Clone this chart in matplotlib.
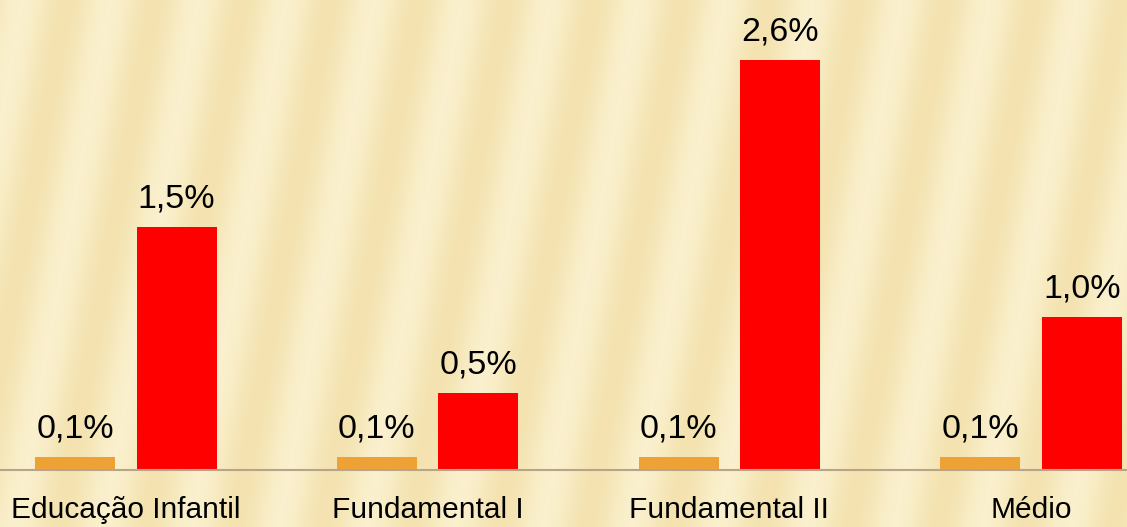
import matplotlib
matplotlib.use("Agg")
import matplotlib.pyplot as plt
import numpy as np

categories = ["Educação Infantil", "Fundamental I", "Fundamental II", "Médio"]
serie_a = [0.08, 0.08, 0.08, 0.08]
serie_b = [1.54, 0.49, 2.60, 0.97]

plt.rcParams['font.family'] = ['Liberation Sans', 'DejaVu Sans']

fig = plt.figure(figsize=(11.27, 5.27), dpi=100)
fig.patch.set_facecolor('#F8EBC0')

# soft diagonal stripes in the background
bg = fig.add_axes([0, 0, 1, 1], zorder=0)
xx, yy = np.meshgrid(np.linspace(0, 1127, 1127), np.linspace(0, 527, 527))
stripes = 0.5 + 0.5 * np.sin((xx + 0.18 * yy) / 14.0)
bg.imshow(stripes, cmap=matplotlib.colors.LinearSegmentedColormap.from_list(
    'bgc', ['#F4E3B0', '#FAF0CD']), aspect='auto', extent=[0, 1, 0, 1])
bg.axis('off')

ax = fig.add_axes([0, 57 / 527, 1, 470 / 527], zorder=1)
ax.patch.set_alpha(0)

x = np.arange(len(categories))
w = 0.265
off = 0.168
bars_a = ax.bar(x - off, serie_a, w, color='#EEA236')
bars_b = ax.bar(x + off, serie_b, w, color='#FF0000')

for bars in (bars_a, bars_b):
    for b in bars:
        h = b.get_height()
        ax.annotate(f"{h:.1f}%".replace('.', ','), (b.get_x() + b.get_width() / 2, h),
                    xytext=(0, 9), textcoords='offset points',
                    ha='center', va='bottom', fontsize=24.5, color='black')

ax.set_xlim(-126 / 302, 3 + 96 / 302)
ax.set_ylim(0, 2.98)
ax.set_xticks(x)
ax.set_xticklabels(categories, fontsize=21.5)
ax.tick_params(axis='x', length=0, pad=19)
ax.set_yticks([])
for s in ['top', 'right', 'left']:
    ax.spines[s].set_visible(False)
ax.spines['bottom'].set_color('#B8A48A')
ax.spines['bottom'].set_linewidth(1.5)

fig.savefig('out.png', dpi=100, facecolor=fig.get_facecolor())
